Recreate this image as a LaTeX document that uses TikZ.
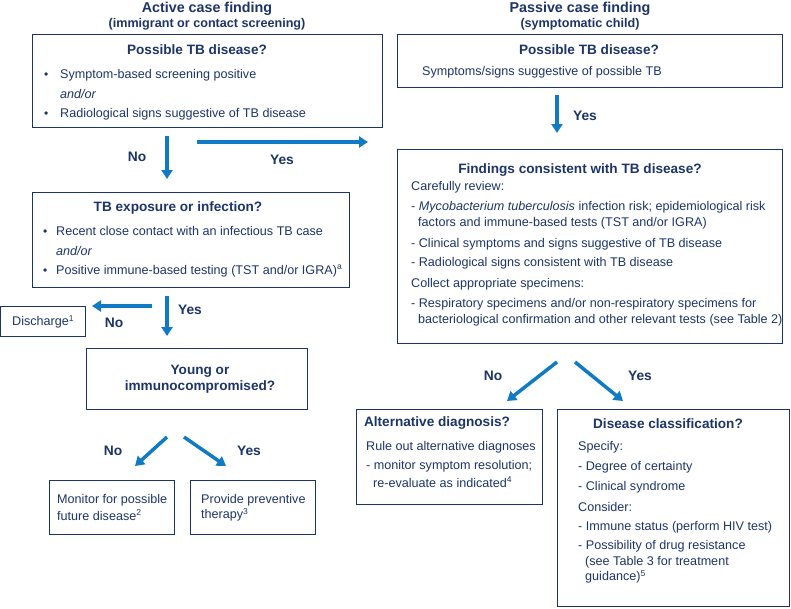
\documentclass[tikz,border=0pt]{standalone}
\usepackage{fontspec}
\setmainfont{Liberation Sans}
\usetikzlibrary{arrows.meta}
\definecolor{navy}{RGB}{28,52,104}
\definecolor{flowblue}{RGB}{16,122,196}
\newcommand{\sups}[1]{\textsuperscript{\fontsize{8.5}{8.5}\selectfont #1}}
\newcommand{\bul}{\makebox[13pt][l]{\fontsize{12}{12}\selectfont\textbullet}}
\tikzset{
  box/.style={draw=navy, line width=1.3pt, anchor=north west, inner sep=0pt},
  head/.style={font=\fontsize{13.6}{16}\selectfont\bfseries, text=navy, inner sep=0pt},
  title/.style={font=\fontsize{14.3}{17}\selectfont\bfseries, text=navy, inner sep=0pt},
  subtitle/.style={font=\fontsize{12.6}{15}\selectfont\bfseries, text=navy, inner sep=0pt},
  body/.style={font=\fontsize{12.6}{15}\selectfont, text=navy, anchor=west, inner sep=0pt},
  lbl/.style={font=\fontsize{13.8}{16}\selectfont\bfseries, text=navy, inner sep=0pt},
  flow/.style={draw=flowblue, line width=3.5pt, -{Triangle[width=11pt,length=9pt]}},
}
\begin{document}
\begin{tikzpicture}[x=1pt, y=-1pt]
    \useasboundingbox (0,0) rectangle (791,608);

    % column titles
    \node[title] (actT) at (207,9) {Active case finding};
    \node[subtitle] (actS) at (207,24) {(immigrant or contact screening)};
    \node[title] (pasT) at (580,9) {Passive case finding};
    \node[subtitle] (pasS) at (580,24) {(symptomatic child)};

    % active: possible TB disease
    \node[box, minimum width=350, minimum height=93] (possA) at (32,34) {};
    \node[head] (possAh) at (197,50) {Possible TB disease?};
    \node[body] (possA1) at (44,75) {\makebox[16pt][l]{\fontsize{12}{12}\selectfont\textbullet}Symptom-based screening positive};
    \node[body] (possA2) at (60,94) {\textit{and/or}};
    \node[body] (possA3) at (44,114) {\makebox[16pt][l]{\fontsize{12}{12}\selectfont\textbullet}Radiological signs suggestive of TB disease};

    % passive: possible TB disease
    \node[box, minimum width=385, minimum height=53] (possP) at (397,34) {};
    \node[head] (possPh) at (589,50) {Possible TB disease?};
    \node[body] (possP1) at (422,72) {Symptoms/signs suggestive of possible TB};

    % findings consistent with TB disease
    \node[box, minimum width=385, minimum height=194] (find) at (397,149) {};
    \node[head] (findh) at (580,170) {Findings consistent with TB disease?};
    \node[body] (find1) at (411,187) {Carefully review:};
    \node[body] (find2) at (411,207) {- \textit{Mycobacterium tuberculosis} infection risk; epidemiological risk};
    \node[body] (find3) at (418,223) {factors and immune-based tests (TST and/or IGRA)};
    \node[body] (find4) at (411,244) {- Clinical symptoms and signs suggestive of TB disease};
    \node[body] (find5) at (411,263) {- Radiological signs consistent with TB disease};
    \node[body] (find6) at (411,284) {Collect appropriate specimens:};
    \node[body] (find7) at (411,304) {- Respiratory specimens and/or non-respiratory specimens for};
    \node[body] (find8) at (418,320) {bacteriological confirmation and other relevant tests (see Table 2)};

    % TB exposure or infection
    \node[box, minimum width=317, minimum height=95] (expo) at (32,192) {};
    \node[head] (expoh) at (178,208) {TB exposure or infection?};
    \node[body] (expo1) at (43,231) {\bul Recent close contact with an infectious TB case};
    \node[body] (expo2) at (56,251) {\textit{and/or}};
    \node[body] (expo3) at (43,271) {\bul Positive immune-based testing (TST and/or IGRA)\sups{a}};

    % discharge
    \node[box, minimum width=85, minimum height=30] (disc) at (0,306) {};
    \node[body] (disct) at (12,322) {Discharge\sups{1}};

    % young or immunocompromised
    \node[box, minimum width=221, minimum height=61] (young) at (86,348) {};
    \node[head, align=center] (youngt) at (200,379) {Young or\\immunocompromised?};

    % monitor / preventive therapy
    \node[box, minimum width=125, minimum height=54] (moni) at (49,480) {};
    \node[body] (moni1) at (57,500) {Monitor for possible};
    \node[body] (moni2) at (57,515) {future disease\sups{2}};
    \node[box, minimum width=125, minimum height=54] (prev) at (190,480) {};
    \node[body] (prev1) at (201,500) {Provide preventive};
    \node[body] (prev2) at (201,515) {therapy\sups{3}};

    % alternative diagnosis
    \node[box, minimum width=186, minimum height=95] (alt) at (356,409) {};
    \node[head] (alth) at (437,423) {Alternative diagnosis?};
    \node[body] (alt1) at (366,447) {Rule out alternative diagnoses};
    \node[body] (alt2) at (366,466) {- monitor symptom resolution;};
    \node[body] (alt3) at (373,482) {re-evaluate as indicated\sups{4}};

    % disease classification
    \node[box, minimum width=232, minimum height=197] (clas) at (557,409) {};
    \node[head] (clash) at (668,424) {Disease classification?};
    \node[body] (clas1) at (578,447) {Specify:};
    \node[body] (clas2) at (578,467) {- Degree of certainty};
    \node[body] (clas3) at (578,487) {- Clinical syndrome};
    \node[body] (clas4) at (578,507) {Consider:};
    \node[body] (clas5) at (578,527) {- Immune status (perform HIV test)};
    \node[body] (clas6) at (578,546) {- Possibility of drug resistance};
    \node[body] (clas7) at (585,562) {(see Table 3 for treatment};
    \node[body] (clas8) at (585,577) {guidance)\sups{5}};

    % arrow ends
    \coordinate (pYesA) at (557,95);   \coordinate (pYesB) at (557,133);
    \coordinate (aNoA) at (167,136);   \coordinate (aNoB) at (167,179);
    \coordinate (aYesA) at (197,142);  \coordinate (aYesB) at (368,142);
    \coordinate (eYesA) at (167,296);  \coordinate (eYesB) at (167,336);
    \coordinate (eNoA) at (152,306);   \coordinate (eNoB) at (92,306);
    \coordinate (yNoA) at (167,437);   \coordinate (yNoB) at (135,466);
    \coordinate (yYesA) at (184,437);  \coordinate (yYesB) at (226,466);
    \coordinate (fNoA) at (557,362);   \coordinate (fNoB) at (507,401);
    \coordinate (fYesA) at (575,362);  \coordinate (fYesB) at (623,401);

    \draw[flow] (pYesA) -- (pYesB);
    \draw[flow] (aNoA) -- (aNoB);
    \draw[flow] (aYesA) -- (aYesB);
    \draw[flow] (eYesA) -- (eYesB);
    \draw[flow] (eNoA) -- (eNoB);
    \draw[flow] (yNoA) -- (yNoB);
    \draw[flow] (yYesA) -- (yYesB);
    \draw[flow] (fNoA) -- (fNoB);
    \draw[flow] (fYesA) -- (fYesB);

    % yes / no labels
    \node[lbl] (pYes) at (585,116) {Yes};
    \node[lbl] (aNo) at (137,157) {No};
    \node[lbl] (aYes) at (282,160) {Yes};
    \node[lbl] (eYes) at (190,310) {Yes};
    \node[lbl] (eNo) at (114,323) {No};
    \node[lbl] (yNo) at (113,451) {No};
    \node[lbl] (yYes) at (249,451) {Yes};
    \node[lbl] (fNo) at (493,376) {No};
    \node[lbl] (fYes) at (640,376) {Yes};
\end{tikzpicture}
\end{document}
